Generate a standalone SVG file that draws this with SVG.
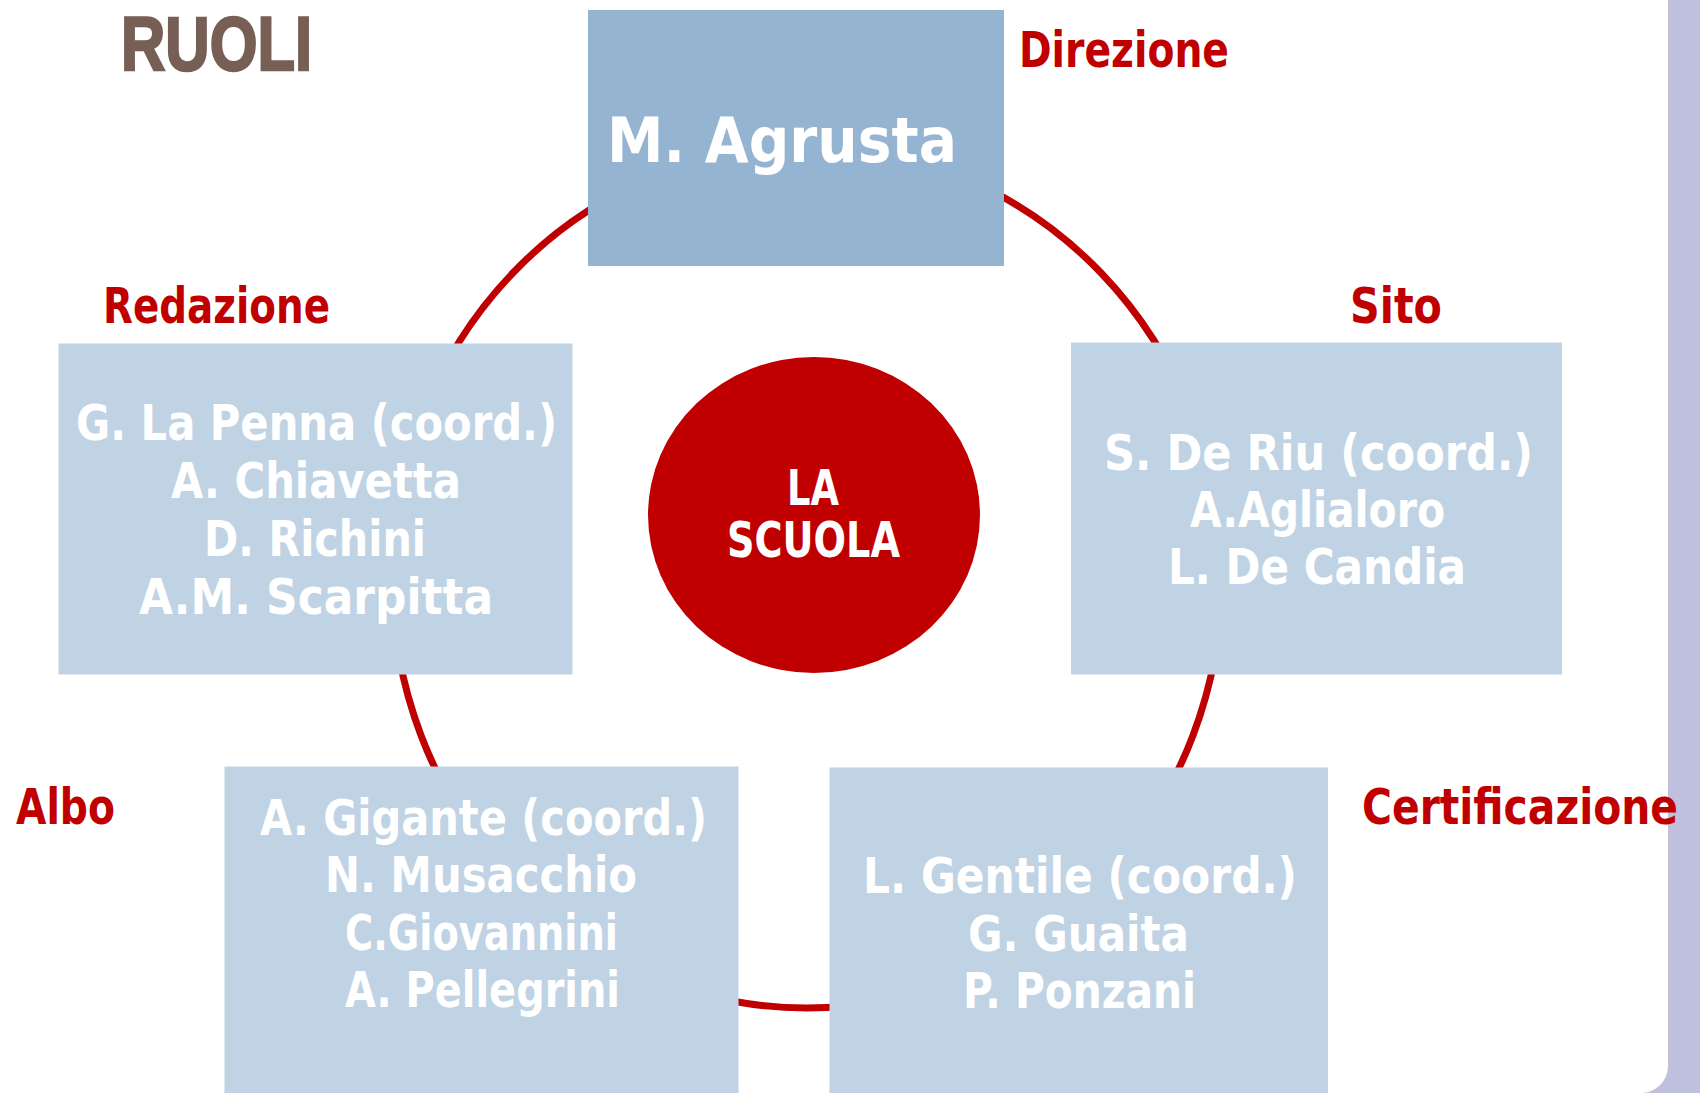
<svg xmlns="http://www.w3.org/2000/svg" width="1700" height="1093" viewBox="0 0 1700 1093">
  <style>
    .lbl { font-family: "DejaVu Sans", "Liberation Sans", sans-serif; font-weight: bold; font-size: 49px; fill: #C00000; }
    .box { fill: #C0D3E4; }
    .btxt { font-family: "DejaVu Sans", "Liberation Sans", sans-serif; font-weight: bold; font-size: 49px; fill: #FFFFFF; text-anchor: middle; }
    .ring { fill: none; stroke: #C00000; stroke-width: 7; }
  </style>
  <rect x="0" y="0" width="1700" height="1093" fill="#BFBFDE"/>
  <path d="M0 0 H1668 V1066 A27 27 0 0 1 1641 1093 H0 Z" fill="#FFFFFF"/>
  <text x="121" y="70" font-family="'Liberation Sans', Arial, sans-serif" font-weight="bold" font-size="76" fill="#775F55" stroke="#775F55" stroke-width="2.5" textLength="191" lengthAdjust="spacingAndGlyphs">RUOLI</text>

  <g id="connectors">
    <ellipse class="ring" cx="807" cy="577" rx="415" ry="431"/>
  </g>

  <g id="center">
    <ellipse cx="814" cy="515" rx="166" ry="158" fill="#C00000"/>
    <text class="btxt" x="813" y="505" font-size="42" textLength="52" lengthAdjust="spacingAndGlyphs">LA</text>
    <text class="btxt" x="813.5" y="557" font-size="42" textLength="173" lengthAdjust="spacingAndGlyphs">SCUOLA</text>
  </g>

  <g id="direzione">
    <rect x="588" y="10" width="416" height="256" fill="#95B4D2"/>
    <text x="607" y="162" font-family="'DejaVu Sans', 'Liberation Sans', sans-serif" font-weight="bold" font-size="62" fill="#FFFFFF" textLength="350" lengthAdjust="spacingAndGlyphs">M. Agrusta</text>
    <text class="lbl" x="1019" y="67" textLength="210" lengthAdjust="spacingAndGlyphs">Direzione</text>
  </g>

  <g id="redazione">
    <rect class="box" x="58.5" y="343.5" width="514" height="331"/>
    <text class="btxt" x="316.5" y="440" textLength="481" lengthAdjust="spacingAndGlyphs">G. La Penna (coord.)</text>
    <text class="btxt" x="316" y="498" textLength="290" lengthAdjust="spacingAndGlyphs">A. Chiavetta</text>
    <text class="btxt" x="315" y="556" textLength="222" lengthAdjust="spacingAndGlyphs">D. Richini</text>
    <text class="btxt" x="316" y="614" textLength="354" lengthAdjust="spacingAndGlyphs">A.M. Scarpitta</text>
    <text class="lbl" x="103" y="323" textLength="227" lengthAdjust="spacingAndGlyphs">Redazione</text>
  </g>

  <g id="sito">
    <rect class="box" x="1071" y="342.5" width="491" height="332"/>
    <text class="btxt" x="1318.5" y="470" textLength="429" lengthAdjust="spacingAndGlyphs">S. De Riu (coord.)</text>
    <text class="btxt" x="1317.5" y="527" textLength="255" lengthAdjust="spacingAndGlyphs">A.Aglialoro</text>
    <text class="btxt" x="1317" y="584" textLength="298" lengthAdjust="spacingAndGlyphs">L. De Candia</text>
    <text class="lbl" x="1350" y="323" textLength="92" lengthAdjust="spacingAndGlyphs">Sito</text>
  </g>

  <g id="albo">
    <rect class="box" x="224.5" y="766.5" width="514" height="330"/>
    <text class="btxt" x="483.5" y="835" textLength="447" lengthAdjust="spacingAndGlyphs">A. Gigante (coord.)</text>
    <text class="btxt" x="481" y="892" textLength="312" lengthAdjust="spacingAndGlyphs">N. Musacchio</text>
    <text class="btxt" x="481.5" y="950" textLength="273" lengthAdjust="spacingAndGlyphs">C.Giovannini</text>
    <text class="btxt" x="482.5" y="1007" textLength="275" lengthAdjust="spacingAndGlyphs">A. Pellegrini</text>
    <text class="lbl" x="16" y="824" textLength="99" lengthAdjust="spacingAndGlyphs">Albo</text>
  </g>

  <g id="certificazione">
    <rect class="box" x="829.5" y="767.5" width="498.5" height="330"/>
    <text class="btxt" x="1080" y="893" textLength="434" lengthAdjust="spacingAndGlyphs">L. Gentile (coord.)</text>
    <text class="btxt" x="1078.5" y="951" textLength="221" lengthAdjust="spacingAndGlyphs">G. Guaita</text>
    <text class="btxt" x="1079.5" y="1008" textLength="233" lengthAdjust="spacingAndGlyphs">P. Ponzani</text>
    <text class="lbl" x="1362" y="824" textLength="316" lengthAdjust="spacingAndGlyphs">Certificazione</text>
  </g>
</svg>
